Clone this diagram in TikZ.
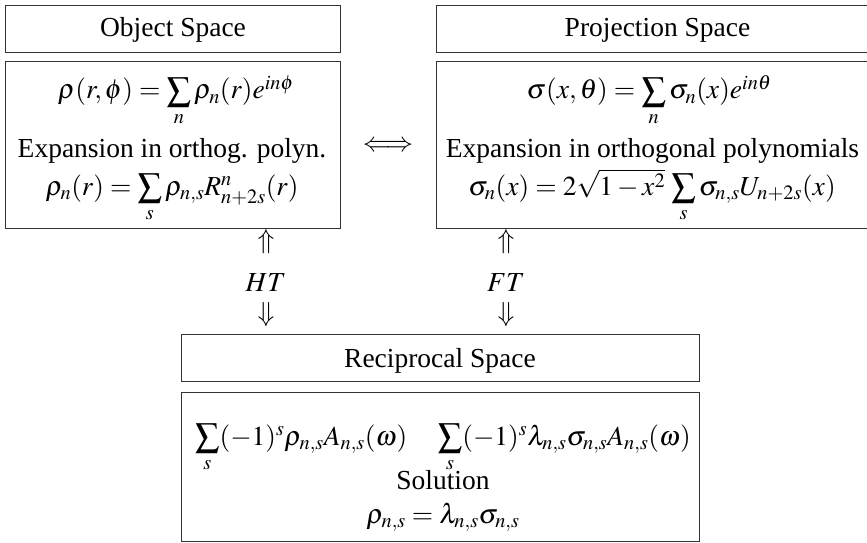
\documentclass[tikz,border=0pt]{standalone}
\usepackage{mathptmx}
\usepackage[no-math]{fontspec}
\setmainfont{Liberation Serif}
\newcommand\Sm{\mathop{\vcenter{\hbox{\scalebox{1.25}{$\textstyle\sum$}}}}\limits}
\begin{document}
\begin{tikzpicture}[x=1pt,y=-1pt,
  box/.style={draw=black!80, line width=1.2pt, inner sep=0pt, anchor=north west},
  lbl/.style={anchor=base, inner sep=0pt, font=\fontsize{27.5}{33}\selectfont},
  sym/.style={anchor=center, inner sep=0pt, font=\fontsize{27.5}{33}\selectfont}]
\useasboundingbox (0,0) rectangle (867,543);
\clip (0,0) rectangle (867,543);
% boxes
\node[box, minimum width=335pt, minimum height=47pt] (objT) at (5,5) {};
\node[box, minimum width=335pt, minimum height=167pt] (objC) at (5,61) {};
\node[box, minimum width=440pt, minimum height=47pt] (projT) at (436,5) {};
\node[box, minimum width=440pt, minimum height=167pt] (projC) at (436,61) {};
\node[box, minimum width=518pt, minimum height=47pt] (recT) at (181,334) {};
\node[box, minimum width=518pt, minimum height=149pt] (recC) at (181,392) {};
% titles
\node[lbl] (objTt) at (173,37) {Object Space};
\node[lbl] (projTt) at (657.5,37) {Projection Space};
\node[lbl] (recTt) at (440,367) {Reciprocal Space};
% object content
\node[lbl] (obj1) at (176,99) {$\rho(r,\phi)=\Sm_n\rho_n(r)e^{in\phi}$};
\node[lbl] (obj2) at (172,157) {Expansion in orthog. polyn.};
\node[lbl] (obj3) at (172,195) {$\rho_n(r)=\Sm_s\rho_{n,s}R^n_{n+2s}(r)$};
% projection content
\node[lbl] (proj1) at (649,99) {$\sigma(x,\theta)=\Sm_n\sigma_n(x)e^{in\theta}$};
\node[lbl] (proj2) at (652.5,157) {Expansion in orthogonal polynomials};
\node[lbl] (proj3) at (652,195) {$\sigma_n(x)=2\sqrt{1-x^2}\,\Sm_s\sigma_{n,s}U_{n+2s}(x)$};
% reciprocal content
\node[lbl] (rec1) at (443,445) {$\Sm_s(-1)^s\rho_{n,s}A_{n,s}(\omega)\quad\Sm_s(-1)^s\lambda_{n,s}\sigma_{n,s}A_{n,s}(\omega)$};
\node[lbl] (rec2) at (443,489) {Solution};
\node[lbl] (rec3) at (443,523) {$\rho_{n,s}=\lambda_{n,s}\sigma_{n,s}$};
% arrows
\node[sym] (lr) at (388,146) {$\Longleftrightarrow$};
\node[sym] (hu) at (266,242) {$\Uparrow$};
\node[sym] (ht) at (266,283) {$HT$};
\node[sym] (hd) at (266,315) {$\Downarrow$};
\node[sym] (fu) at (506,242) {$\Uparrow$};
\node[sym] (ft) at (506,283) {$FT$};
\node[sym] (fd) at (506,315) {$\Downarrow$};
\end{tikzpicture}
\end{document}
